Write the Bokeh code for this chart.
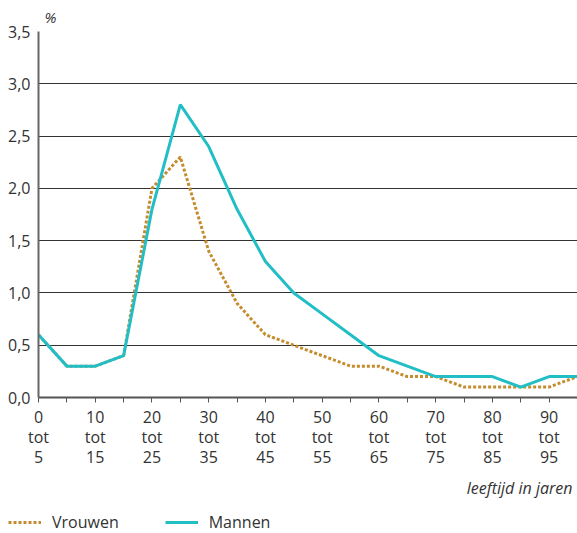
from bokeh.plotting import figure
from bokeh.models import Range1d, FixedTicker, Title, Legend, LegendItem
from bokeh.layouts import column, row
from bokeh.embed import file_html
from bokeh.resources import INLINE

# data
age_start = [0, 5, 10, 15, 20, 25, 30, 35, 40, 45, 50, 55, 60, 65, 70, 75, 80, 85, 90, 95]
mannen = [0.6, 0.3, 0.3, 0.4, 1.8, 2.8, 2.4, 1.8, 1.3, 1.0, 0.8, 0.6, 0.4, 0.3, 0.2, 0.2, 0.2, 0.1, 0.2, 0.2]
vrouwen = [0.6, 0.3, 0.3, 0.4, 2.0, 2.3, 1.4, 0.9, 0.6, 0.5, 0.4, 0.3, 0.3, 0.2, 0.2, 0.1, 0.1, 0.1, 0.1, 0.2]
x_ticks = [0, 10, 20, 30, 40, 50, 60, 70, 80, 90]
x_tick_labels = ["0\ntot\n5", "10\ntot\n15", "20\ntot\n25", "30\ntot\n35", "40\ntot\n45",
                 "50\ntot\n55", "60\ntot\n65", "70\ntot\n75", "80\ntot\n85", "90\ntot\n95"]
x_minor = [5, 15, 25, 35, 45, 55, 65, 75, 85]
y_ticks = [0, 0.5, 1.0, 1.5, 2.0, 2.5, 3.0, 3.5]
y_tick_labels = ["0,0", "0,5", "1,0", "1,5", "2,0", "2,5", "3,0", "3,5"]
series_names = ["Vrouwen", "Mannen"]

FONT = "Open Sans"
TXT = "#333333"
TEAL = "#22bec6"
BROWN = "#c48c2e"

p = figure(width=577, height=505, output_backend="svg", toolbar_location=None,
           x_range=Range1d(0, 95), y_range=Range1d(0, 3.5),
           min_border_left=38, min_border_right=0, min_border_top=31, min_border_bottom=108)
p.outline_line_color = None
p.background_fill_color = "white"

# axes
p.xaxis.ticker = FixedTicker(ticks=x_ticks, minor_ticks=x_minor)
p.xaxis.major_label_overrides = dict(zip(x_ticks, x_tick_labels))
p.xaxis.major_tick_out = 5
p.xaxis.major_tick_in = 0
p.xaxis.minor_tick_out = 5
p.xaxis.minor_tick_in = 0
p.xaxis.major_tick_line_color = "#555555"
p.xaxis.minor_tick_line_color = "#555555"
p.xaxis.axis_line_color = "#555555"
p.xaxis.axis_line_width = 2
p.xaxis.major_label_standoff = 3
p.xaxis.major_label_text_font = FONT
p.xaxis.major_label_text_font_size = "16px"
p.xaxis.major_label_text_color = TXT
p.xaxis.major_label_text_line_height = 0.92

p.yaxis.ticker = FixedTicker(ticks=y_ticks)
p.yaxis.major_label_overrides = dict(zip(y_ticks, y_tick_labels))
p.yaxis.major_tick_out = 0
p.yaxis.major_tick_in = 0
p.yaxis.minor_tick_line_color = None
p.yaxis.axis_line_color = "#666666"
p.yaxis.axis_line_width = 2
p.yaxis.major_label_standoff = 8
p.yaxis.major_label_text_font = FONT
p.yaxis.major_label_text_font_size = "16px"
p.yaxis.major_label_text_color = TXT

p.xgrid.grid_line_color = None
p.ygrid.ticker = FixedTicker(ticks=y_ticks)
p.ygrid.grid_line_color = "#333333"
p.ygrid.grid_line_width = 1

# lines
r_v = p.line(age_start, vrouwen, line_color=BROWN, line_width=3, line_dash="3 2")
r_m = p.line(age_start, mannen, line_color=TEAL, line_width=3)

# texts
p.add_layout(Title(text="%", align="left", offset=6, standoff=9, text_font=FONT,
                   text_font_style="italic", text_font_size="15px", text_color=TXT), "above")
p.add_layout(Title(text="leeftijd in jaren", align="right", offset=5, standoff=8,
                   text_font=FONT, text_font_style="italic", text_font_size="16px",
                   text_color=TXT), "below")

# legend strip (same series drawn out of its visible range; only the legend shows)
lg = figure(width=577, height=28, output_backend="svg", toolbar_location=None,
            x_range=Range1d(1000, 1001), y_range=Range1d(1000, 1001),
            min_border=0, min_border_left=0, min_border_right=0, min_border_top=0, min_border_bottom=0)
lg.axis.visible = False
lg.grid.visible = False
lg.outline_line_color = None
lv = lg.line(age_start, vrouwen, line_color=BROWN, line_width=3, line_dash="3 2")
lm = lg.line(age_start, mannen, line_color=TEAL, line_width=3)
legend = Legend(items=[LegendItem(label=series_names[0], renderers=[lv]),
                       LegendItem(label=series_names[1], renderers=[lm])],
                orientation="horizontal", location=(8, 0),
                padding=0, margin=0, spacing=46, glyph_width=33, glyph_height=22,
                label_standoff=11, label_text_font=FONT, label_text_font_size="16px",
                label_text_color=TXT, border_line_color=None, background_fill_alpha=0)
lg.add_layout(legend)

layout = column(p, row(lg, spacing=0), spacing=0)
open("out.html", "w").write(file_html(layout, INLINE))
